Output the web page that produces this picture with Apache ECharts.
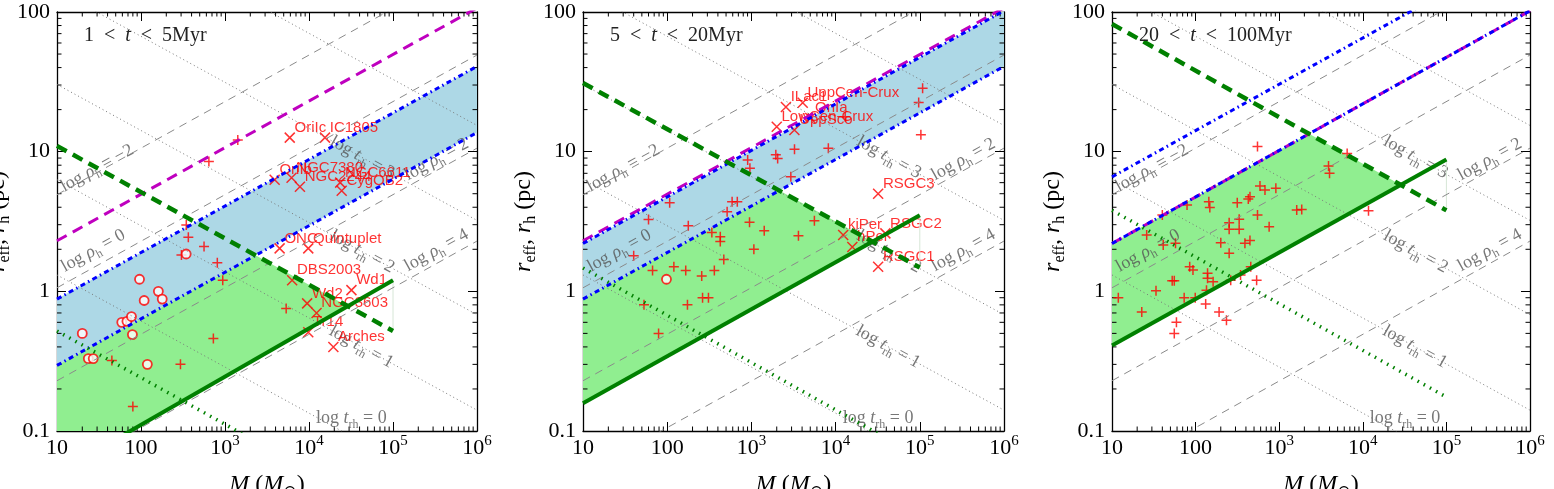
<!DOCTYPE html>
<html>
<head>
<meta charset="utf-8">
<script src="https://cdn.jsdelivr.net/npm/echarts@6/dist/echarts.min.js"></script>
<style>html,body{margin:0;padding:0;background:#fff;}#chart{width:1554px;height:489px;}</style>
</head>
<body>
<div id="chart"></div>
<script>
// ================= DATA =================
const panelAgeLow = ['1', '5', '20'];
const panelAgeHigh = ['5Myr', '20Myr', '100Myr'];

// reference lines of constant half-mass density (log rho_h) : r at M=10 and at M=1e6
const rhoLevels = ['\u22122', '0', '2', '4'];
const rhoLineR10 = [4.92, 1.06, 0.229, 0.049];
const rhoLineR1e6 = [228, 49.2, 10.6, 2.29];
// reference lines of constant relaxation time (log t_rh) : r at M=10 and at M=1e6
const trhLevels = ['0', '1', '2', '3', '4'];
const trhLineR10 = [1.31, 6.3, 30.3, 143, 688];
const trhLineR1e6 = [0.0294, 0.141, 0.68, 3.22, 15.4];

// panel 1 : 1 < t < 5 Myr
const p1_magenta = [[10, 2.3], [1e6, 107]];
const p1_blueHigh = [[10, 0.88], [1e6, 40.8]];
const p1_blueLow = [[10, 0.295], [1e6, 13.7]];
const p1_greenDashed = [[10, 11], [1e5, 0.52]];
const p1_greenSolid = [[10, 0.05], [1e5, 1.2]];
const p1_greenDotted = [[10, 0.52], [1e5, 0.024]];
const p1_plus = [[45,0.32],[80,0.15],[295,0.30],[346,2.98],[366,2.44],[303,1.82],[563,2.09],[727,0.46],[643,8.5],[810,1.60],[940,1.2],[1420,12.1],[5350,0.755]];
const p1_circle = [[20,0.5],[23.6,0.33],[27,0.33],[59,0.60],[68,0.61],[77,0.66],[79,0.49],[96,1.22],[109,0.86],[119,0.30],[161,1.0],[179,0.88],[345,1.85]];
const p1_named = [[5900,12.6,'OriIc'],[15500,12.6,'IC1805'],[3900,6.3,'OriIb'],[6200,6.5,'NGC7380'],[7800,5.6,'NGC2244'],[23500,6.0,'NGC6611'],[24500,5.25,'CygOB2'],[4470,2.03,'ONC'],[9800,2.03,'Quintuplet'],[6300,1.2,'DBS2003'],[32000,1.02,'Wd1'],[9500,0.82,'Wd2'],[12300,0.70,'NGC3603'],[9800,0.51,'Tr14'],[19500,0.40,'Arches']];

// panel 2 : 5 < t < 20 Myr
const p2_magenta = [[10, 2.3], [1e6, 107]];
const p2_blueHigh = [[10, 2.2], [1e6, 102]];
const p2_blueLow = [[10, 0.88], [1e6, 40.8]];
const p2_greenDashed = [[10, 31], [1e5, 1.48]];
const p2_greenSolid = [[10, 0.158], [1e5, 3.5]];
const p2_greenDotted = [[10, 1.47], [1e5, 0.065]];
const p2_plus = [[40,1.8],[53,0.80],[67,1.41],[60,3.27],[79,0.50],[107,4.3],[120,1.5],[166,1.41],[178,2.95],[174,0.80],[257,1.29],[263,0.90],[309,0.90],[339,2.64],[363,1.41],[427,2.46],[427,2.27],[470,1.69],[515,3.72],[590,4.38],[680,4.38],[950,3.12],[903,8.7],[960,7.6],[1070,2.0],[1420,2.72],[1950,9.5],[2050,8.95],[2940,6.6],[3250,10.4],[3620,2.5],[5600,3.2],[8200,10.6],[13000,17.8],[97000,22.5],[108000,28.4],[103000,13.2]];
const p2_circle = [[98,1.22]];
const p2_named = [[2570,20.9,'ILac1'],[4070,22.4,'UppCen-Crux'],[5000,17.4,'OriIa'],[2000,15.1,'LowCen-Crux'],[3240,14.3,'UppSco'],[32000,5.0,'RSGC3'],[12300,2.53,'kiPer'],[15800,2.08,'hPer'],[39000,2.6,'RSGC2'],[32000,1.5,'RSGC1']];

// panel 3 : 20 < t < 100 Myr
const p3_magenta = [[10, 2.2], [1e6, 102]];
const p3_blueHigh = [[10, 6.6], [1e6, 300]];
const p3_blueLow = [[10, 2.2], [1e6, 102]];
const p3_greenDashed = [[10, 82], [1e5, 3.8]];
const p3_greenSolid = [[10, 0.41], [1e5, 8.8]];
const p3_greenDotted = [[10, 3.8], [1e5, 0.175]];
const p3_plus = [[11.9,0.90],[22.7,0.71],[26,2.53],[33.6,1.01],[40,3.52],[41,2.15],[52.5,1.19],[55.6,1.19],[57.5,2.21],[55.6,0.50],[59,0.60],[73,0.90],[79,4.15],[85,1.5],[93,1.42],[99,0.90],[132,0.81],[135,1.02],[139,1.24],[139,1.35],[144,4.38],[148,3.99],[162,1.17],[191,0.71],[200,2.23],[234,0.62],[252,3.1],[252,2.78],[252,1.87],[263,1.2],[315,4.3],[332,3.28],[332,2.78],[345,1.31],[389,2.21],[427,4.58],[447,4.76],[447,2.31],[457,1.5],[537,1.2],[550,10.9],[550,3.52],[589,5.68],[676,5.32],[758,2.9],[912,5.46],[1620,3.82],[1860,3.86],[3890,7.9],[4000,7.0],[6500,9.7],[11700,3.78]];
const p3_circle = [];
const p3_named = [];

// annotation anchor points (M, r) for the reference-line labels
const rhoLabelAt = [[30, 7.6], [27, 1.95], [3.3e5, 8.8], [3.3e5, 1.97]];
const trhLabelAt = [[3.2e4, 0.123], [4.2e4, 0.40], [4.3e4, 1.92], [4.3e4, 9.1]];

const minorMult = [2, 3, 4, 5, 6, 7, 8, 9];
const xDecades = [10, 100, 1e3, 1e4, 1e5];
const yDecades = [0.1, 1, 10];

// ================= STYLE / LAYOUT =================
const SERIF = "'Liberation Serif', 'DejaVu Serif', serif";
const SANS = "'Liberation Sans', Arial, sans-serif";
const grids = [
  {left: 57, top: 12, width: 420, height: 419},
  {left: 583, top: 12, width: 421, height: 419},
  {left: 1112, top: 12, width: 418, height: 419}
];
const panels = [
  {magenta: p1_magenta, blueHigh: p1_blueHigh, blueLow: p1_blueLow, dashed: p1_greenDashed, solid: p1_greenSolid, dotted: p1_greenDotted, blueFill: true, plus: p1_plus, circle: p1_circle, named: p1_named},
  {magenta: p2_magenta, blueHigh: p2_blueHigh, blueLow: p2_blueLow, dashed: p2_greenDashed, solid: p2_greenSolid, dotted: p2_greenDotted, blueFill: true, plus: p2_plus, circle: p2_circle, named: p2_named},
  {magenta: p3_magenta, blueHigh: p3_blueHigh, blueLow: p3_blueLow, dashed: p3_greenDashed, solid: p3_greenSolid, dotted: p3_greenDotted, blueFill: false, plus: p3_plus, circle: p3_circle, named: p3_named}
];

const tickRich = {
  b: {fontFamily: SERIF, fontSize: 22, lineHeight: 28, color: '#000'},
  s: {fontFamily: SERIF, fontSize: 15, lineHeight: 15, verticalAlign: 'top', color: '#000'}
};
function fmtX(v) {
  const e = Math.round(Math.log10(v));
  if (e === 1) return '{b|10}';
  if (e === 2) return '{b|100}';
  return '{b|10}{s|' + e + '}';
}
function fmtY(v) {
  const e = Math.round(Math.log10(v));
  return '{b|' + ({'-1': '0.1', '0': '1', '1': '10', '2': '100'})[e] + '}';
}
const nameRich = {
  i: {fontFamily: SERIF, fontSize: 24, fontStyle: 'italic', color: '#000', lineHeight: 30},
  n: {fontFamily: SERIF, fontSize: 24, color: '#000', lineHeight: 30},
  sub: {fontFamily: SERIF, fontSize: 16, color: '#000', lineHeight: 16, verticalAlign: 'bottom'}
};
const annoRich = {
  n: {fontFamily: SERIF, fontSize: 18, color: '#555', lineHeight: 24},
  i: {fontFamily: SERIF, fontSize: 18, fontStyle: 'italic', color: '#555', lineHeight: 24},
  sub: {fontFamily: SERIF, fontSize: 12, color: '#555', lineHeight: 12, verticalAlign: 'bottom'}
};

function lineFn(line) {
  const x0 = Math.log10(line[0][0]), y0 = Math.log10(line[0][1]);
  const x1 = Math.log10(line[1][0]), y1 = Math.log10(line[1][1]);
  const k = (y1 - y0) / (x1 - x0);
  return x => y0 + k * (x - x0);
}
function crossing(f1, f2, xa, xb) {
  const g = x => f1(x) - f2(x);
  return xa - g(xa) * (xb - xa) / (g(xb) - g(xa));
}
function greenPolygon(p) {
  const fb = lineFn(p.blueLow), fd = lineFn(p.dashed), fs = lineFn(p.solid);
  const xa = Math.log10(p.dashed[0][0]), xb = Math.log10(p.dashed[1][0]);
  const up = x => Math.min(fb(x), fd(x));
  let xEnd = crossing(fd, fs, xa, xb);
  if (!(xEnd > xa && xEnd < xb)) xEnd = xb;
  const pts = [[xa, up(xa)]];
  const xi = crossing(fb, fd, xa, xb);
  if (xi > xa && xi < xEnd) pts.push([xi, up(xi)]);
  pts.push([xEnd, up(xEnd)], [xEnd, fs(xEnd)], [xa, fs(xa)]);
  return pts.map(q => [Math.pow(10, q[0]), Math.pow(10, q[1])]);
}

const xAxes = [], yAxes = [], series = [], titles = [];
grids.forEach((g, gi) => {
  ['bottom', 'top'].forEach(pos => {
    xAxes.push({
      type: 'log', logBase: 10, gridIndex: gi, position: pos, min: 10, max: 1e6,
      axisLine: {show: true, onZero: false, lineStyle: {color: '#000', width: 1.3}},
      axisTick: {show: true, inside: true, length: 9, lineStyle: {color: '#000', width: 1}},
      axisLabel: {show: pos === 'bottom', margin: 3, formatter: fmtX, rich: tickRich, showMinLabel: true, showMaxLabel: true},
      splitLine: {show: false},
      name: pos === 'bottom' ? '{i|M}{n| (}{i|M}{sub|\u2299}{n|)}' : '',
      nameLocation: 'middle', nameGap: 39,
      nameTextStyle: {rich: nameRich, fontFamily: SERIF, fontSize: 24, color: '#000'}
    });
  });
  ['left', 'right'].forEach(pos => {
    yAxes.push({
      type: 'log', logBase: 10, gridIndex: gi, position: pos, min: 0.1, max: 100,
      axisLine: {show: true, onZero: false, lineStyle: {color: '#000', width: 1.3}},
      axisTick: {show: true, inside: true, length: 9, lineStyle: {color: '#000', width: 1}},
      axisLabel: {show: pos === 'left', margin: 7, formatter: fmtY, rich: tickRich, showMinLabel: true, showMaxLabel: true},
      splitLine: {show: false},
      name: pos === 'left' ? '{i|r}{sub|eff}{n|, }{i|r}{sub|h}{n| (pc)}' : '',
      nameLocation: 'middle', nameGap: 44,
      nameTextStyle: {rich: nameRich, fontFamily: SERIF, fontSize: 24, color: '#000'}
    });
  });
  titles.push({
    text: '{n|' + panelAgeLow[gi] + '\u2002<\u2002}{i|t}{n|\u2002<\u2002' + panelAgeHigh[gi] + '}',
    left: g.left + 27, top: 26, padding: 0,
    textStyle: {fontWeight: 'normal', rich: {
      n: {fontFamily: SERIF, fontSize: 20, fontWeight: 'normal', color: '#222'},
      i: {fontFamily: SERIF, fontSize: 20, fontWeight: 'normal', fontStyle: 'italic', color: '#222'}
    }}
  });

  const p = panels[gi];
  const xi = gi * 2, yi = gi * 2;
  const base = {xAxisIndex: xi, yAxisIndex: yi, silent: true, animation: false};

  // fills
  if (p.blueFill) {
    const poly = [p.blueLow[0], p.blueLow[1], p.blueHigh[1], p.blueHigh[0]];
    series.push(Object.assign({}, base, {
      type: 'custom', coordinateSystem: 'cartesian2d', clip: true, data: [[10, 1]],
      renderItem: (params, api) => ({type: 'polygon', shape: {points: poly.map(q => api.coord(q))}, style: {fill: '#add8e6'}})
    }));
  }
  const gpoly = greenPolygon(p);
  series.push(Object.assign({}, base, {
    type: 'custom', coordinateSystem: 'cartesian2d', clip: true, data: [[10, 1]],
    renderItem: (params, api) => ({type: 'polygon', shape: {points: gpoly.map(q => api.coord(q))}, style: {fill: '#90ee90'}})
  }));
  // faint closing edge of the model region at the mass limit
  series.push(Object.assign({}, base, {
    type: 'line', symbol: 'none', clip: true, data: [p.solid[1], p.dashed[1]],
    lineStyle: {color: '#d6e6d6', width: 1}
  }));

  // reference gray lines
  rhoLevels.forEach((lv, k) => {
    series.push(Object.assign({}, base, {
      type: 'line', symbol: 'none', clip: true, data: [[10, rhoLineR10[k]], [1e6, rhoLineR1e6[k]]],
      lineStyle: {color: '#8a8a8a', width: 1, type: [8, 6]}
    }));
  });
  trhLevels.forEach((lv, k) => {
    series.push(Object.assign({}, base, {
      type: 'line', symbol: 'none', clip: true, data: [[10, trhLineR10[k]], [1e6, trhLineR1e6[k]]],
      lineStyle: {color: '#777', width: 1, type: [1, 3]}
    }));
  });

  // coloured model lines
  series.push(Object.assign({}, base, {type: 'line', symbol: 'none', clip: true, data: p.magenta,
    lineStyle: {color: '#bf00bf', width: 3, type: [11, 7]}}));
  series.push(Object.assign({}, base, {type: 'line', symbol: 'none', clip: true, data: p.blueHigh,
    lineStyle: {color: '#0000ff', width: 3, type: [5, 3.5, 1.5, 3.5]}}));
  series.push(Object.assign({}, base, {type: 'line', symbol: 'none', clip: true, data: p.blueLow,
    lineStyle: {color: '#0000ff', width: 3, type: [5, 3.5, 1.5, 3.5]}}));
  series.push(Object.assign({}, base, {type: 'line', symbol: 'none', clip: true, data: p.dashed,
    lineStyle: {color: '#008000', width: 4.5, type: [11, 7]}}));
  series.push(Object.assign({}, base, {type: 'line', symbol: 'none', clip: true, data: p.solid,
    lineStyle: {color: '#008000', width: 4}}));
  series.push(Object.assign({}, base, {type: 'line', symbol: 'none', clip: true, data: p.dotted,
    lineStyle: {color: '#008000', width: 3.5, type: [1.5, 5.5]}}));

  // reference-line labels
  series.push(Object.assign({}, base, {
    type: 'scatter', symbolSize: 1, itemStyle: {color: 'rgba(0,0,0,0)'},
    data: rhoLabelAt.map((q, k) => [q[0], q[1], rhoLevels[k]]),
    label: {show: true, position: 'inside', rotate: 29, rich: annoRich,
      formatter: prm => '{n|log }{i|\u03c1}{sub|h}{n| = ' + prm.data[2] + '}'}
  }));
  series.push(Object.assign({}, base, {
    type: 'scatter', symbolSize: 1, itemStyle: {color: 'rgba(0,0,0,0)'},
    data: trhLabelAt.map((q, k) => [q[0], q[1], trhLevels[k]]),
    label: {show: true, position: 'inside', rich: annoRich, rotate: 0,
      formatter: prm => '{n|log }{i|t}{sub|rh}{n| = ' + prm.data[2] + '}'},
    labelLayout: prm => ({rotate: prm.dataIndex === 0 ? 0 : -29})
  }));

  // minor ticks on all four sides
  series.push(Object.assign({}, base, {
    type: 'custom', coordinateSystem: 'cartesian2d', clip: false, data: [[10, 1]],
    renderItem: (params, api) => {
      const a = api.coord([10, 0.1]), b = api.coord([1e6, 100]);
      const L = 4.5, ch = [];
      const seg = (x1, y1, x2, y2) => ({type: 'line', shape: {x1, y1, x2, y2}, style: {stroke: '#000', lineWidth: 1}});
      xDecades.forEach(d => minorMult.forEach(m => {
        const x = api.coord([d * m, 1])[0];
        ch.push(seg(x, a[1], x, a[1] - L), seg(x, b[1], x, b[1] + L));
      }));
      yDecades.forEach(d => minorMult.forEach(m => {
        const y = api.coord([10, d * m])[1];
        ch.push(seg(a[0], y, a[0] + L, y), seg(b[0], y, b[0] - L, y));
      }));
      return {type: 'group', children: ch};
    }
  }));

  // observed clusters
  series.push(Object.assign({}, base, {
    type: 'scatter', data: p.plus, symbol: 'path://M0,5L10,5M5,0L5,10', symbolSize: 10,
    itemStyle: {color: 'rgba(0,0,0,0)', borderColor: '#ff0000', borderWidth: 1.5}
  }));
  series.push(Object.assign({}, base, {
    type: 'scatter', data: p.circle, symbol: 'circle', symbolSize: 9,
    itemStyle: {color: '#ffffff', borderColor: '#ff0000', borderWidth: 1.8}
  }));
  series.push(Object.assign({}, base, {
    type: 'scatter', data: p.named, symbol: 'path://M0,0L10,10M0,10L10,0', symbolSize: 10,
    itemStyle: {color: 'rgba(0,0,0,0)', borderColor: '#ff0000', borderWidth: 1.5},
    label: {show: true, position: 'right', distance: -1, offset: [0, -10],
      formatter: prm => prm.data[2], color: '#ff0000', fontFamily: SANS, fontSize: 15}
  }));
});

const chart = echarts.init(document.getElementById('chart'), null, {renderer: 'canvas'});
chart.setOption({
  animation: false,
  backgroundColor: '#ffffff',
  title: titles,
  grid: grids.map(g => Object.assign({containLabel: false, outerBoundsMode: 'none'}, g)),
  xAxis: xAxes,
  yAxis: yAxes,
  series: series
});
</script>
</body>
</html>
